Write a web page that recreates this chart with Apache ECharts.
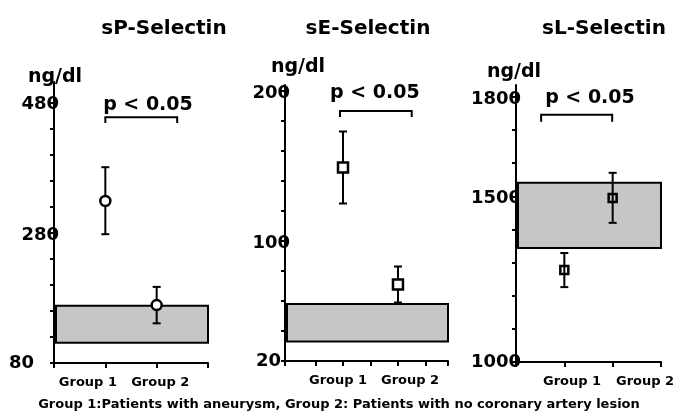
<!DOCTYPE html>
<html><head><meta charset="utf-8">
<script src="https://cdn.jsdelivr.net/npm/echarts@6/dist/echarts.min.js"></script>
<style>html,body{margin:0;padding:0;background:#fff}#c{width:678px;height:414px}</style>
</head><body><div id="c"></div>
<script>
// ---- data ----
const panelTitles = ['sP-Selectin', 'sE-Selectin', 'sL-Selectin'];
const unitLabel = 'ng/dl';
const groupNames = ['Group 1', 'Group 2'];
const groupX = [1, 2];
const pText = 'p < 0.05';
const footnote = 'Group 1:Patients with aneurysm, Group 2: Patients with no coronary artery lesion';

// means and error-bar ends (Group 1, Group 2)
const spMean = [329, 169], spHigh = [381, 197], spLow = [278, 141];
const seMean = [149, 71],  seHigh = [173, 83],  seLow = [125, 59];
const slMean = [1278, 1495], slHigh = [1329, 1571], slLow = [1226, 1420];

// shaded control range [low, high]
const spRange = [111, 168];
const seRange = [33, 58];
const slRange = [1344, 1541];

// y-axis ticks and labels
const spTicks = [80, 120, 160, 200, 240, 280, 320, 360, 400, 440, 480];
const spLabels = [80, 280, 480];
const seTicks = [20, 40, 60, 80, 100, 120, 140, 160, 180, 200];
const seLabels = [20, 100, 200];
const slTicks = [1000, 1100, 1200, 1300, 1400, 1500, 1600, 1700, 1800];
const slLabels = [1000, 1500, 1800];

// ---- layout ----
const FONT = '"DejaVu Sans", sans-serif';
const panels = [
  { mean: spMean, hi: spHigh, lo: spLow, range: spRange, ticks: spTicks, labels: spLabels,
    grid: { left: 54, top: 82, width: 154, height: 281 }, xMin: 0, xMax: 3, yMin: 80, yMax: 512,
    xTicks: [0, 1, 2, 3], labelAt: [0.66, 2.07], minPad: 25, symbol: 'circle', size: 10, fill: '#fff',
    bracket: [1.0, 2.4, 458, 449, 1.83, 477], titleX: 164, unitX: 55, unitY: 77 },
  { mean: seMean, hi: seHigh, lo: seLow, range: seRange, ticks: seTicks, labels: seLabels,
    grid: { left: 285, top: 85, width: 163, height: 276 }, xMin: -0.055, xMax: 2.91, yMin: 20, yMax: 204,
    xTicks: [-0.055, 0.5, 1, 1.5, 2, 2.5, 2.91], labelAt: [0.91, 2.22], minPad: 9, symbol: 'rect', size: 10, fill: '#fff',
    bracket: [0.945, 2.25, 186.7, 182.7, 1.58, 198.7], titleX: 368, unitX: 298, unitY: 67 },
  { mean: slMean, hi: slHigh, lo: slLow, range: slRange, ticks: slTicks, labels: slLabels,
    grid: { left: 516, top: 85, width: 145, height: 277 }, xMin: 0, xMax: 3, yMin: 1000, yMax: 1836,
    xTicks: [0, 1, 2, 3], labelAt: [1.16, 2.67], minPad: 0, symbol: 'rect', size: 8, fill: 'rgba(0,0,0,0)',
    bracket: [0.52, 1.99, 1746, 1725, 1.53, 1797], titleX: 604, unitX: 514, unitY: 72 }
];

const grids = [], xAxes = [], yAxes = [], series = [], graphics = [];

panels.forEach((p, i) => {
  grids.push(Object.assign({ containLabel: false }, p.grid));
  xAxes.push({
    type: 'value', gridIndex: i, min: p.xMin, max: p.xMax,
    axisLine: { show: true, onZero: false, lineStyle: { color: '#000', width: 2 } },
    axisTick: { show: true, customValues: p.xTicks, length: 5, lineStyle: { color: '#000', width: 2 } },
    axisLabel: {
      show: true, customValues: p.labelAt, margin: 13,
      formatter: (v) => { const k = p.labelAt.indexOf(v); return k >= 0 ? groupNames[k] : ''; },
      color: '#000', fontFamily: FONT, fontWeight: 'bold', fontSize: 13
    },
    splitLine: { show: false }
  });
  yAxes.push({
    type: 'value', gridIndex: i, min: p.yMin, max: p.yMax,
    axisLine: { show: true, onZero: false, lineStyle: { color: '#000', width: 2 } },
    axisTick: { show: true, customValues: p.ticks, length: 4, lineStyle: { color: '#000', width: 2 } },
    axisLabel: {
      show: true, customValues: p.labels, margin: -5,
      formatter: (v) => v === p.yMin ? '{m|' + v + '}' : '{n|' + v + '}',
      rich: {
        m: { fontFamily: FONT, fontWeight: 'bold', fontSize: 18, color: '#000', padding: [0, p.minPad, 0, 0] },
        n: { fontFamily: FONT, fontWeight: 'bold', fontSize: 18, color: '#000', padding: [4, 0, 0, 0] }
      }
    },
    splitLine: { show: false }
  });

  // shaded range box
  series.push({
    type: 'custom', xAxisIndex: i, yAxisIndex: i, z: 1, silent: true,
    data: [[p.xMin, p.xMax, p.range[0], p.range[1]]],
    renderItem: (params, api) => {
      const a = api.coord([api.value(0), api.value(3)]);
      const b = api.coord([api.value(1), api.value(2)]);
      return { type: 'rect', shape: { x: a[0] + 2, y: a[1], width: b[0] - a[0] - 2, height: b[1] - a[1] },
        style: { fill: '#c6c6c6', stroke: '#000', lineWidth: 2 } };
    }
  });

  // error bars
  const ebData = groupX.map((x, k) => [x, p.lo[k], p.hi[k]]);
  series.push({
    type: 'custom', xAxisIndex: i, yAxisIndex: i, z: i === 2 ? 4 : 2, silent: true,
    data: ebData,
    renderItem: (params, api) => {
      const lo = api.coord([api.value(0), api.value(1)]);
      const hi = api.coord([api.value(0), api.value(2)]);
      const c = 4, st = { stroke: '#000', lineWidth: 2 };
      return { type: 'group', children: [
        { type: 'line', shape: { x1: lo[0], y1: lo[1], x2: hi[0], y2: hi[1] }, style: st },
        { type: 'line', shape: { x1: hi[0] - c, y1: hi[1], x2: hi[0] + c, y2: hi[1] }, style: st },
        { type: 'line', shape: { x1: lo[0] - c, y1: lo[1], x2: lo[0] + c, y2: lo[1] }, style: st }
      ] };
    }
  });

  // means
  series.push({
    type: 'scatter', xAxisIndex: i, yAxisIndex: i, z: 3, silent: true,
    symbol: p.symbol, symbolSize: p.size,
    itemStyle: { color: p.fill, borderColor: '#000', borderWidth: 2.5, opacity: 1 },
    data: groupX.map((x, k) => [x, p.mean[k]])
  });

  // significance bracket
  series.push({
    type: 'custom', xAxisIndex: i, yAxisIndex: i, z: 3, silent: true,
    data: [p.bracket],
    renderItem: (params, api) => {
      const l1 = api.coord([api.value(0), api.value(3)]);
      const l2 = api.coord([api.value(0), api.value(2)]);
      const r2 = api.coord([api.value(1), api.value(2)]);
      const r1 = api.coord([api.value(1), api.value(3)]);
      const t = api.coord([api.value(4), api.value(5)]);
      return { type: 'group', children: [
        { type: 'polyline', shape: { points: [l1, l2, r2, r1] }, style: { stroke: '#000', lineWidth: 2, fill: null } },
        { type: 'text', x: t[0], y: t[1], style: { text: pText, fill: '#000', font: 'bold 19px ' + FONT, align: 'center', verticalAlign: 'middle' } }
      ] };
    }
  });

  graphics.push({ type: 'text', x: p.titleX, y: 29, style: { text: panelTitles[i], fill: '#000', font: 'bold 20px ' + FONT, align: 'center', verticalAlign: 'middle' } });
  graphics.push({ type: 'text', x: p.unitX, y: p.unitY, style: { text: unitLabel, fill: '#000', font: 'bold 19px ' + FONT, align: 'center', verticalAlign: 'middle' } });
});

graphics.push({ type: 'text', x: 339, y: 405, style: { text: footnote, fill: '#000', font: 'bold 13px ' + FONT, align: 'center', verticalAlign: 'middle' } });

const chart = echarts.init(document.getElementById('c'), null, { renderer: 'canvas' });
chart.setOption({
  animation: false,
  backgroundColor: '#fff',
  grid: grids, xAxis: xAxes, yAxis: yAxes, series: series, graphic: graphics
});
</script></body></html>
